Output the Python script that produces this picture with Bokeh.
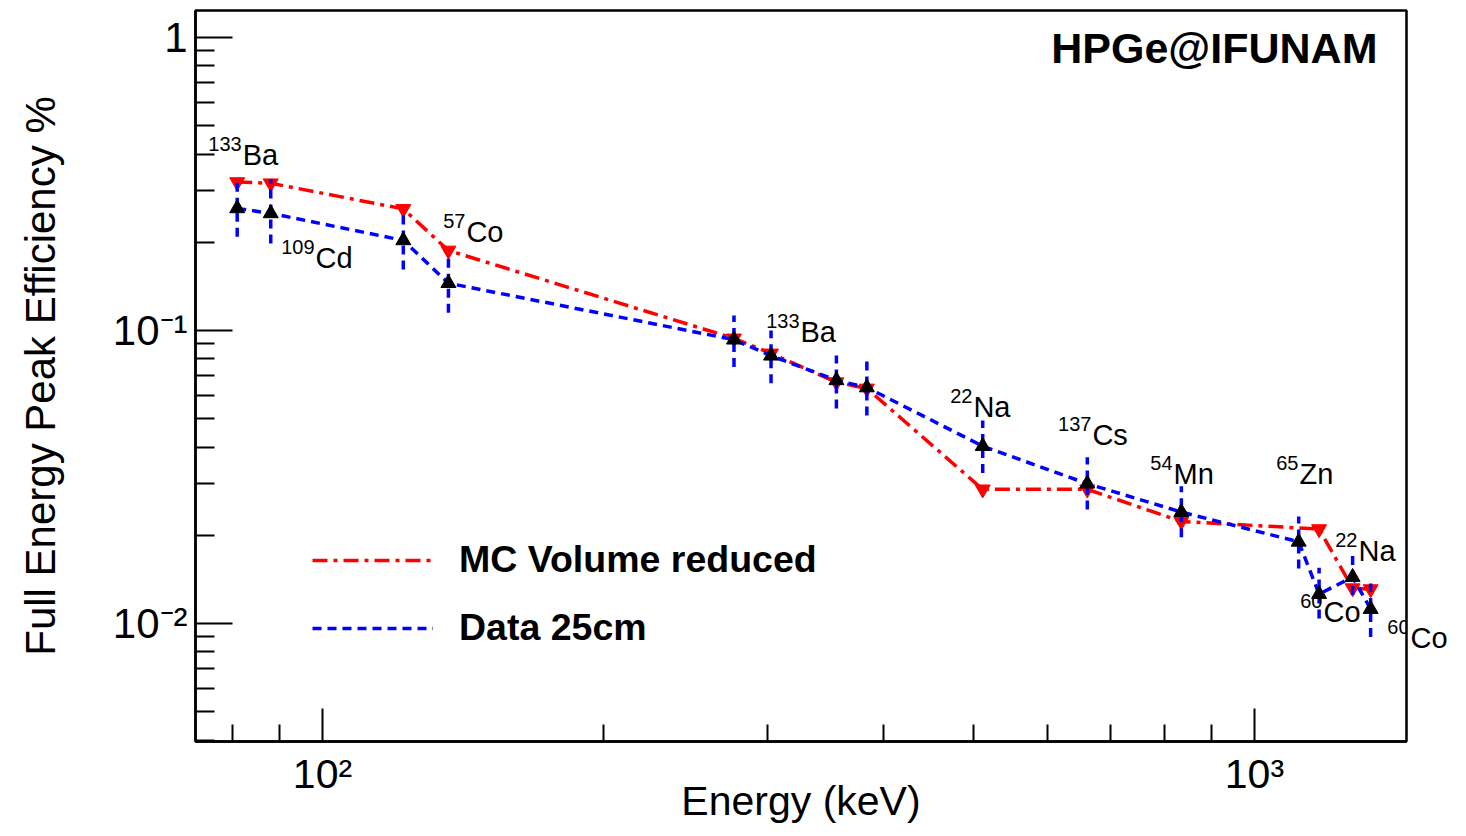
from bokeh.plotting import figure
from bokeh.models import (FixedTicker, Legend, LegendItem, LabelSet, Label,
                          ColumnDataSource, Range1d)
from bokeh.embed import file_html
from bokeh.resources import INLINE
from bokeh.core.properties import value

# ---------------- data ----------------
energy = [81.0, 88.0, 122.1, 136.5, 276.4, 302.9, 356.0, 383.8, 511.0,
          661.7, 834.8, 1115.5, 1173.2, 1274.5, 1332.5]
data_eff = [0.261, 0.251, 0.203, 0.145, 0.093, 0.082, 0.0676, 0.0639, 0.0403,
            0.0300, 0.0240, 0.0190, 0.0126, 0.0144, 0.0112]
data_hi = [0.320, 0.328, 0.257, 0.180, 0.1125, 0.100, 0.0822, 0.0784, 0.0493,
           0.0369, 0.0294, 0.0232, 0.0155, 0.0175, 0.0137]
data_lo = [0.209, 0.198, 0.1615, 0.115, 0.075, 0.0661, 0.0542, 0.0513, 0.0326,
           0.0245, 0.0197, 0.0154, 0.0104, 0.0125, 0.0090]

mc_energy = [81.0, 88.0, 122.1, 136.5, 276.4, 302.9, 356.0, 383.8, 511.0,
             661.7, 834.8, 1173.2, 1274.5, 1332.5]
mc_eff = [0.321, 0.318, 0.260, 0.1875, 0.094, 0.0835, 0.0666, 0.0634, 0.0287,
          0.0287, 0.0223, 0.0210, 0.0132, 0.0131]

iso_mass = ["133", "109", "57", "133", "22", "137", "54", "65", "22", "60", "60"]
iso_elem = ["Ba", "Cd", "Co", "Ba", "Na", "Cs", "Mn", "Zn", "Na", "Co", "Co"]
lab_x = [82.1, 98.3, 142.7, 325.8, 499.4, 670.1, 818.8, 1117.6, 1293.2, 1185.9, 1470.7]
lab_y = [0.366, 0.163, 0.201, 0.0910, 0.0505, 0.0405, 0.0300, 0.0299, 0.0164, 0.0101, 0.00822]

x_major = [100, 1000]
x_minor = [80, 90, 200, 300, 400, 500, 600, 700, 800, 900]
x_labels = {100: "10\u00b2", 1000: "10\u00b3"}
y_major = [0.01, 0.1, 1]
y_minor = [0.004, 0.005, 0.006, 0.007, 0.008, 0.009,
           0.02, 0.03, 0.04, 0.05, 0.06, 0.07, 0.08, 0.09,
           0.2, 0.3, 0.4, 0.5, 0.6, 0.7, 0.8, 0.9]
y_labels = {0.01: "10\u207b\u00b2", 0.1: "10\u207b\u00b9", 1: "1"}

X_MIN, X_MAX = 73.07, 1456.0
Y_MIN, Y_MAX = 0.003956, 1.236

FONT = "Liberation Sans"

p = figure(width=1450, height=828, x_axis_type="log", y_axis_type="log",
           x_range=Range1d(X_MIN, X_MAX), y_range=Range1d(Y_MIN, Y_MAX),
           output_backend="svg", toolbar_location=None,
           min_border_left=195, min_border_right=44, min_border_top=10,
           min_border_bottom=87)
p.background_fill_color = "white"
p.border_fill_color = "white"
p.outline_line_color = "black"
p.outline_line_width = 2.5
p.outline_line_alpha = 1
p.xgrid.visible = False
p.ygrid.visible = False

xa = p.xaxis[0]
xa.ticker = FixedTicker(ticks=x_major, minor_ticks=x_minor)
xa.major_label_overrides = x_labels
xa.major_tick_in = 33
xa.major_tick_out = 0
xa.minor_tick_in = 17
xa.minor_tick_out = 0
xa.major_tick_line_width = 2
xa.minor_tick_line_width = 2
xa.axis_line_width = 2.5
xa.major_label_text_font = FONT
xa.major_label_text_font_size = "41px"
xa.major_label_text_color = "black"
xa.major_label_standoff = 9
xa.axis_label = "Energy (keV)"
xa.axis_label_text_font = FONT
xa.axis_label_text_font_size = "41px"
xa.axis_label_text_font_style = "normal"
xa.axis_label_text_color = "black"
xa.axis_label_standoff = -22

ya = p.yaxis[0]
ya.ticker = FixedTicker(ticks=y_major, minor_ticks=y_minor)
ya.major_label_overrides = y_labels
ya.major_tick_in = 37
ya.major_tick_out = 0
ya.minor_tick_in = 19
ya.minor_tick_out = 0
ya.major_tick_line_width = 2
ya.minor_tick_line_width = 2
ya.axis_line_width = 2.5
ya.major_label_text_font = FONT
ya.major_label_text_font_size = "42px"
ya.major_label_text_color = "black"
ya.major_label_standoff = 8
ya.axis_label = "Full Energy Peak Efficiency %"
ya.axis_label_text_font = FONT
ya.axis_label_text_font_size = "42px"
ya.axis_label_text_font_style = "normal"
ya.axis_label_text_color = "black"
ya.axis_label_standoff = 46

# ---------------- series ----------------
red = p.line(mc_energy, mc_eff, line_color="#ff0000", line_width=3.5,
             line_dash="15 6 4 6")
p.scatter(mc_energy, mc_eff, marker="inverted_triangle", size=15,
          fill_color="#ff0000", line_color="#ff0000")
blue = p.line(energy, data_eff, line_color="#0000ff", line_width=3.5,
              line_dash="9 6")
p.segment(energy, data_lo, energy, data_hi, line_color="#0000ff",
          line_width=3.5, line_dash="9 6")
p.scatter(energy, data_eff, marker="triangle", size=15,
          fill_color="black", line_color="black")

# ---------------- legend ----------------
leg = Legend(items=[LegendItem(label="MC Volume reduced", renderers=[red]),
                    LegendItem(label="Data 25cm", renderers=[blue])],
             location=(117, 92), orientation="vertical",
             glyph_width=121, glyph_height=42, label_height=42,
             label_standoff=26, spacing=25, padding=0, margin=0,
             border_line_alpha=0, background_fill_alpha=0,
             label_text_font=FONT, label_text_font_style="bold",
             label_text_font_size="37.5px", label_text_color="black")
p.add_layout(leg)

# ---------------- isotope labels ----------------
# mass numbers and labels inside the frame are drawn in the frame;
# the element symbol that sticks out beyond the frame goes in the right panel
inside = [i for i in range(len(lab_x)) if lab_x[i] < X_MAX]
outside = [i for i in range(len(lab_x)) if lab_x[i] >= X_MAX]
src_el = ColumnDataSource(dict(x=[lab_x[i] for i in inside],
                               y=[lab_y[i] for i in inside],
                               elem=[iso_elem[i] for i in inside]))
src_ms = ColumnDataSource(dict(x=lab_x, y=lab_y, mass=iso_mass))
p.add_layout(LabelSet(x="x", y="y", text="elem", source=src_el,
                      text_font=value(FONT), text_font_size=value("29px"),
                      text_align="left", text_baseline="alphabetic",
                      text_color="black"))
p.add_layout(LabelSet(x="x", y="y", text="mass", source=src_ms,
                      text_font=value(FONT), text_font_size=value("20px"),
                      text_align="right", text_baseline="alphabetic",
                      x_offset=-1, y_offset=14, text_color="black"))
for i in outside:
    p.add_layout(Label(x=lab_x[i], y=lab_y[i], text=iso_elem[i],
                       text_font=FONT, text_font_size="29px",
                       text_align="left", text_baseline="alphabetic",
                       y_offset=10, text_color="black"), "right")

# ---------------- title ----------------
p.add_layout(Label(x=1355.2, y=0.924, text="HPGe@IFUNAM", text_align="right",
                   text_baseline="alphabetic", text_font=FONT,
                   text_font_style="bold", text_font_size="43px",
                   text_color="black"))

open("out.html", "w").write(file_html(p, INLINE))
